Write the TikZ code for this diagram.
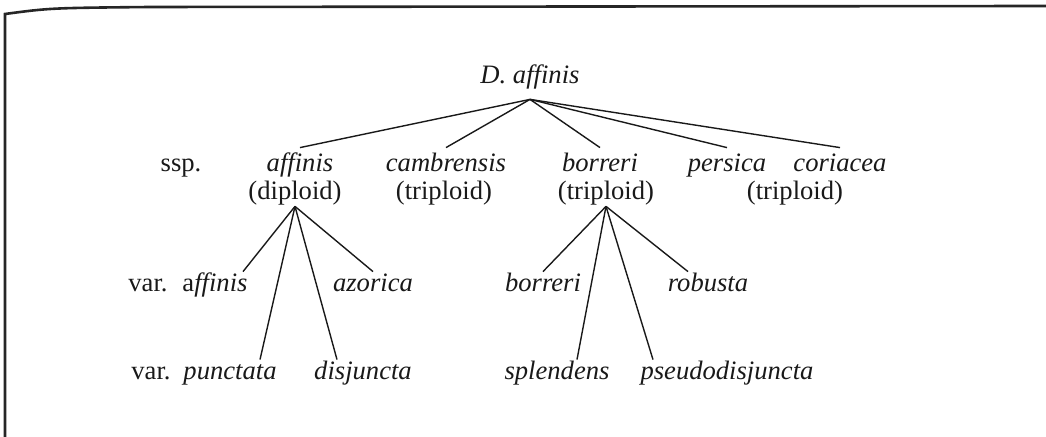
\documentclass[tikz,border=0pt]{standalone}
\usepackage{fontspec}
\setmainfont{Liberation Serif}
\begin{document}
\begin{tikzpicture}[x=0.5pt,y=-0.5pt,
  every node/.style={anchor=base,font=\fontsize{13.3}{16}\selectfont,text=black!90},
  taxon/.style={inner sep=2.5pt,text height=9.5pt,text depth=3pt},
  ploidy/.style={inner sep=0pt,text height=9.5pt,text depth=3pt},
  variety/.style={inner sep=2.5pt,text height=7.5pt,text depth=3pt},
  link/.style={line width=0.7pt,black!90}]
\useasboundingbox (0,0) rectangle (1046,437);

% frame of the box
\draw[line width=1.3pt,black!85] (5,437) -- (5,14) .. controls (50,8) .. (150,7) -- (1046,6);

% species
\node[inner sep=4.5pt,text depth=3pt] (root) at (530,84) {\textit{D. affinis}};

% subspecies
\node (ssp) at (181,172) {ssp.};
\node[taxon] (sspaff) at (300,172) {\textit{affinis}};
\node[taxon] (camb) at (446,172) {\textit{cambrensis}};
\node[taxon] (borr) at (600,172) {\textit{borreri}};
\node[taxon] (pers) at (727,172) {\textit{persica}};
\node[taxon] (cori) at (840,172) {\textit{coriacea}};
\node[ploidy] (dip) at (295,200) {(diploid)};
\node[ploidy] (tricamb) at (444,200) {(triploid)};
\node[ploidy] (triborr) at (606,200) {(triploid)};
\node[ploidy] (tricori) at (795,200) {(triploid)};

\foreach \n in {sspaff,camb,borr,pers,cori}
	\draw[link] (root.south) -- (\n.north);

% varieties
\node (vara) at (148,292) {var.};
\node (varb) at (151,380) {var.};
\node[variety] (varaff) at (215,292) {a\textit{ffinis}};
\node[variety] (azor) at (373,292) {\textit{azorica}};
\node[variety] (punc) at (230,380) {\textit{punctata}};
\node[variety] (disj) at (363,380) {\textit{disjuncta}};
\node[variety] (varborr) at (543,292) {\textit{borreri}};
\node[variety] (robu) at (708,292) {\textit{robusta}};
\node[variety] (splen) at (557,380) {\textit{splendens}};
\node[variety] (pseudo) at (727,380) {\textit{pseudodisjuncta}};

% ssp. affinis
\draw[link] (dip.south) -- ([xshift=14pt]varaff.north);
\draw[link] (dip.south) -- ([xshift=15pt]punc.north);
\draw[link] (dip.south) -- ([xshift=-13pt]disj.north);
\draw[link] (dip.south) -- (azor.north);

% ssp. borreri
\draw[link] (triborr.south) -- (varborr.north);
\draw[link] (triborr.south) -- ([xshift=10pt]splen.north);
\draw[link] (triborr.south) -- ([xshift=-37pt]pseudo.north);
\draw[link] (triborr.south) -- ([xshift=-10pt]robu.north);
\end{tikzpicture}
\end{document}
